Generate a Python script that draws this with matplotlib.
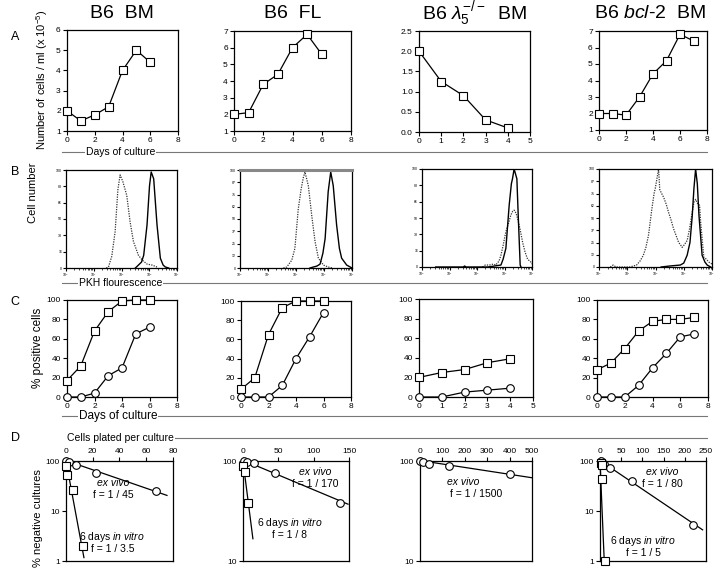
import numpy as np
import matplotlib
matplotlib.use("Agg")
import matplotlib.pyplot as plt
from matplotlib.lines import Line2D
from matplotlib.ticker import FixedLocator, NullLocator, LogLocator, NullFormatter

plt.rcParams['font.family'] = ['Liberation Sans', 'DejaVu Sans']
plt.rcParams['mathtext.fontset'] = 'custom'
plt.rcParams['mathtext.rm'] = 'Liberation Sans'
plt.rcParams['mathtext.it'] = 'Liberation Sans:italic'

# ---- data ----
titles = ["B6  BM", "B6  FL", r"B6 $\lambda_{5}^{-/-}$  BM", r"B6 $\it{bcl}$-$\it{2}$  BM"]

# A: number of cells / ml (x 10^-5) vs days
a_days = [[0, 1, 2, 3, 4, 5, 6], [0, 1, 2, 3, 4, 5, 6], [0, 1, 2, 3, 4], [0, 1, 2, 3, 4, 5, 6, 7]]
a_cells = [[2.0, 1.5, 1.8, 2.2, 4.0, 5.0, 4.4],
           [2.0, 2.1, 3.8, 4.4, 6.0, 6.8, 5.6],
           [2.0, 1.25, 0.9, 0.3, 0.1],
           [2.0, 2.0, 1.9, 3.0, 4.4, 5.2, 6.8, 6.4]]

# B: PKH histograms (log10 fluorescence, % of max)
b_dot_x = [[1.45, 1.53, 1.65, 1.77, 1.87, 1.95, 2.05, 2.19, 2.31, 2.43, 2.61, 2.75, 2.92, 3.1, 3.28],
           [1.55, 1.67, 1.85, 1.96, 2.08, 2.18, 2.26, 2.32, 2.44, 2.56, 2.68, 2.80, 2.98, 3.15, 3.3],
           [2.2, 2.3, 2.45, 2.6, 2.68, 2.8, 2.87, 2.95, 3.05, 3.15, 3.23, 3.3, 3.35, 3.42, 3.48, 3.57,
            3.66, 3.75, 3.84, 3.96, 4.0],
           [0.4, 0.5, 0.6, 1.1, 1.33, 1.45, 1.57, 1.66, 1.75, 1.87, 1.95, 1.99, 2.05, 2.11, 2.15, 2.2,
            2.29, 2.38, 2.46, 2.55, 2.64, 2.73, 2.82, 2.9, 2.94, 3.0, 3.12, 3.2, 3.30, 3.36, 3.42, 3.50,
            3.56, 3.6, 3.71, 3.8, 3.89, 4.0]]
b_dot_y = [[0, 1, 12, 37, 80, 95, 88, 74, 47, 27, 13, 8, 4, 3, 1],
           [0, 1, 8, 20, 60, 80, 92, 98, 84, 54, 27, 10, 3, 1, 0],
           [0, 2, 2, 3, 2, 6, 12, 22, 36, 45, 53, 57, 58, 55, 49, 38, 25, 15, 8, 5, 3],
           [0, 2, 0, 0, 2, 6, 12, 20, 32, 59, 75, 80, 90, 100, 79, 76, 71, 64, 56, 48, 39, 32, 25, 22,
            20, 22, 27, 38, 56, 66, 69, 64, 63, 45, 10, 8, 5, 3]]
b_sol_x = [[2.5, 2.61, 2.72, 2.80, 2.92, 3.01, 3.07, 3.16, 3.28, 3.40, 3.5, 3.58, 3.7],
           [2.5, 2.62, 2.75, 2.86, 2.96, 3.04, 3.15, 3.24, 3.33, 3.45, 3.55, 3.63, 3.81, 4.0],
           [0.5, 1.5, 1.55, 1.6, 2.4, 2.87, 2.95, 3.05, 3.17, 3.25, 3.29, 3.35, 3.40, 3.45, 3.5, 3.57, 3.6],
           [2.2, 2.5, 2.88, 3.0, 3.12, 3.22, 3.30, 3.36, 3.42, 3.48, 3.54, 3.65, 3.75, 3.83, 3.95]]
b_sol_y = [[0, 3, 6, 13, 44, 84, 98, 91, 44, 10, 3, 1, 0],
           [0, 1, 2, 4, 15, 30, 78, 98, 84, 44, 20, 10, 3, 0],
           [0, 0, 1, 0, 0, 2, 8, 19, 63, 85, 90, 100, 95, 90, 52, 2, 0],
           [0, 1, 2, 4, 12, 25, 52, 80, 100, 85, 52, 12, 5, 2, 0]]

# C: % positive cells (squares / circles)
c_days = a_days
c_sq = [[17, 32, 68, 88, 99, 100, 100],
        [8, 20, 65, 93, 100, 100, 100],
        [20, 25, 28, 35, 39],
        [28, 35, 50, 68, 78, 80, 80, 82]]
c_ci = [[0, 0, 4, 22, 30, 65, 72],
        [0, 0, 0, 12, 40, 63, 88],
        [0, 0, 5, 7, 9],
        [0, 0, 0, 12, 30, 45, 62, 65]]

# D: limiting dilution, % negative cultures vs cells plated
d_ci_x = [[0, 2.5, 7.4, 22.8, 67], [1.9, 5.6, 15, 45.5, 137], [0, 15, 42, 131, 403], [1.6, 9.4, 23.6, 74.7, 220]]
d_ci_y = [[100, 95, 84, 58, 25], [100, 98, 95, 76, 38], [100, 98, 94, 90, 74], [100, 88, 74, 39, 5.2]]
d_sq_x = [[0, 1, 5, 12.4], [0, 2.3, 6.6], [], [1.6, 3.9, 3.9, 11.8]]
d_sq_y = [[81, 52, 26, 2.0], [90, 78, 38], [], [91, 82, 44, 1.0]]
d_fit_ci_x = [[0, 75.5], [0, 148.6], [0, 500], [0, 242]]
d_fit_ci_y = [[102, 20.5], [102, 37], [101, 68], [102, 4.2]]
d_fit_sq_x = [[0, 13.4], [0, 14], [], [0, 10]]
d_fit_sq_y = [[100, 1.17], [100, 16.7], [], [100, 1.0]]
d_freq_ex = ["f = 1 / 45", "f = 1 / 170", "f = 1 / 1500", "f = 1 / 80"]
d_freq_iv = ["f = 1 / 3.5", "f = 1 / 8", None, "f = 1 / 5"]

# ---- layout (pixel boxes: left, right, top, bottom) ----
W, H = 720, 570
fig = plt.figure(figsize=(7.2, 5.7), dpi=100)


def px(x, y):
    return x / W, 1 - y / H


def box(l, r, t, b):
    return fig.add_axes([l / W, 1 - b / H, (r - l) / W, (b - t) / H])


def style(ax, top=False):
    for s in ax.spines.values():
        s.set_linewidth(0.9)
    ax.tick_params(direction='out', length=3, width=0.8, labelsize=6, pad=1.5,
                   top=top, bottom=not top, labeltop=top, labelbottom=not top)


a_boxes = [(67, 178, 30, 131), (234, 351, 31, 131), (419, 530, 31, 132), (599, 707, 31, 130)]
b_boxes = [(66, 177, 170, 268), (240, 352, 170, 268), (422, 532, 169, 267), (599, 712, 169, 267)]
c_boxes = [(67, 177, 300, 397), (241, 351, 301, 397), (419, 533, 299, 397), (597, 708, 300, 397)]
d_boxes = [(66, 173, 461, 561), (243, 349, 461, 561), (420, 532, 461, 561), (600, 706, 461, 561)]
title_x = [122, 293, 475, 650]

mk = dict(markerfacecolor='white', markeredgecolor='black', markeredgewidth=0.8,
          color='black', clip_on=False, zorder=3)

a_ylims = [(1, 6), (1, 7), (0, 2.5), (1, 7)]
a_xlims = [8, 8, 5, 8]

for i in range(4):
    fig.text(*px(title_x[i], 14), titles[i], ha='center', va='center', fontsize=14)

    # A
    ax = box(*a_boxes[i])
    ax.plot(a_days[i], a_cells[i], marker='s', ms=5.5, lw=0.9, **mk)
    ax.set_xlim(0, a_xlims[i])
    ax.set_ylim(*a_ylims[i])
    if a_xlims[i] == 5:
        ax.set_xticks(range(0, 6))
        ax.set_yticks(np.arange(0, 2.51, 0.5))
        ax.set_yticklabels(["%.1f" % v for v in np.arange(0, 2.51, 0.5)])
    else:
        ax.set_xticks(range(0, 9, 2))
        ax.set_yticks(range(a_ylims[i][0], a_ylims[i][1] + 1))
    style(ax)

    # B
    ax = box(*b_boxes[i])
    ax.plot(10 ** np.array(b_dot_x[i]), b_dot_y[i], ls=(0, (1, 1)), color='#333333', lw=0.9)
    ax.plot(10 ** np.array(b_sol_x[i]), b_sol_y[i], color='black', lw=1.0)
    ax.set_xscale('log')
    ax.set_xlim(1, 1e4)
    ax.set_ylim(0, 100)
    ax.xaxis.set_major_locator(FixedLocator([1, 10, 100, 1000, 10000]))
    ax.xaxis.set_minor_locator(LogLocator(base=10, subs=np.arange(2, 10)))
    ax.xaxis.set_minor_formatter(NullFormatter())
    ax.set_xticklabels([r"$10^{%d}$" % k for k in range(5)])
    nt = 9 if i in (1, 3) else 7
    ax.set_yticks(np.linspace(0, 100, nt))
    ax.set_yticklabels([str(int(v)) for v in np.linspace(0, 100, nt)])
    style(ax)
    ax.tick_params(labelsize=2.5, length=2, pad=0.8)
    ax.tick_params(which='minor', length=1.2, width=0.5)
    if i == 1:
        ax.spines['top'].set_linewidth(2.2)
        ax.spines['top'].set_color('#888888')

    # C
    ax = box(*c_boxes[i])
    ax.plot(c_days[i], c_sq[i], marker='s', ms=5.5, lw=0.9, **mk)
    ax.plot(c_days[i], c_ci[i], marker='o', ms=5.5, lw=0.9, **mk)
    ax.set_xlim(0, a_xlims[i])
    ax.set_ylim(0, 100)
    ax.set_yticks(range(0, 101, 20))
    ax.set_xticks(range(0, 6) if a_xlims[i] == 5 else range(0, 9, 2))
    style(ax)
    ax.tick_params(axis='x', pad=1.0)

    # D
    ax = box(*d_boxes[i])
    ax.set_yscale('log')
    ax.plot(d_fit_ci_x[i], d_fit_ci_y[i], color='black', lw=0.9, clip_on=False)
    ax.plot(d_ci_x[i], d_ci_y[i], marker='o', ms=5.5, ls='none', **mk)
    if d_sq_x[i]:
        ax.plot(d_fit_sq_x[i], d_fit_sq_y[i], color='black', lw=0.9, clip_on=False)
        ax.plot(d_sq_x[i], d_sq_y[i], marker='s', ms=5.5, ls='none', **mk)
    xmax = [80, 150, 500, 250][i]
    step = [20, 50, 100, 50][i]
    ax.set_xlim(0, xmax)
    ax.set_xticks(range(0, xmax + 1, step))
    if i in (0, 3):
        ax.set_ylim(1, 100)
        ax.set_yticks([1, 10, 100])
        ax.set_yticklabels(["1", "10", "100"])
    else:
        ax.set_ylim(10, 100)
        ax.set_yticks([10, 100])
        ax.set_yticklabels(["10", "100"])
    ax.yaxis.set_minor_locator(NullLocator())
    style(ax, top=True)

# D annotations
ex_pos = [(113, 483), (315, 472), (463, 482), (662, 472)]
exf_pos = [(113, 495), (315, 484), (476, 494), (662, 484)]
iv_pos = [(112, 537), (290, 523), None, (643, 541)]
ivf_pos = [(113, 549), (290, 535), None, (643, 553)]
for i in range(4):
    fig.text(*px(*ex_pos[i]), "ex vivo", style='italic', ha='center', va='center', fontsize=7.5)
    fig.text(*px(*exf_pos[i]), d_freq_ex[i], ha='center', va='center', fontsize=7.5)
    if iv_pos[i]:
        fig.text(*px(*iv_pos[i]), r"6 days $\it{in\ vitro}$", ha='center', va='center', fontsize=7.5)
        fig.text(*px(*ivf_pos[i]), d_freq_iv[i], ha='center', va='center', fontsize=7.5)

# panel letters
for lab, y in zip("ABCD", [37, 172, 302, 438]):
    fig.text(*px(15, y), lab, ha='center', va='center', fontsize=9)

# y labels
fig.text(*px(42, 80), "Number of cells / ml (x 10$^{-5}$)", rotation=90, ha='center', va='center', fontsize=8)
fig.text(*px(33, 193), "Cell number", rotation=90, ha='center', va='center', fontsize=8)
fig.text(*px(38, 348), "% positive cells", rotation=90, ha='center', va='center', fontsize=8.5)
fig.text(*px(38, 518), "% negative cultures", rotation=90, ha='center', va='center', fontsize=8)


# separator lines with labels
def sep(y, label, lx, fs, x_start=62):
    fig.add_artist(Line2D([x_start / W, 707 / W], [1 - y / H, 1 - y / H], color='#777777', lw=0.8))
    fig.text(*px(lx, y), label, ha='left', va='center', fontsize=fs,
             bbox=dict(facecolor='white', edgecolor='none', pad=0.6))


sep(152, "Days of culture", 86, 7.5)
sep(283, "PKH flourescence", 79, 7.5)
sep(416, "Days of culture", 79, 8.5)
sep(438, "Cells plated per culture", 67, 7.5, x_start=150)

fig.savefig("out.png", dpi=100)
